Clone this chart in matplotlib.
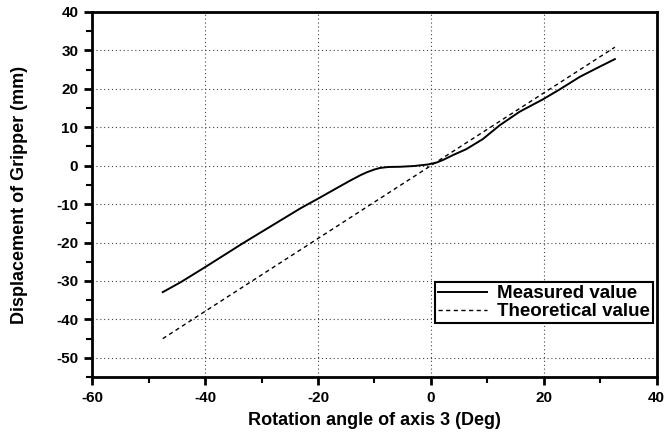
import numpy as np
from matplotlib import pyplot as plt
from matplotlib.ticker import MultipleLocator

# Measured curve
meas_x = [-47.5, -44.3, -40.0, -33.1, -23.1, -20.0, -16.5, -14.3, -12.5, -11.3, -10.0,
          -9.0, -7.5, -5.5, -3.0, -0.5, 1.0, 2.2, 4.0, 6.3, 9.2, 12.2, 15.7, 19.8,
          22.8, 26.4, 30.0, 32.6]
meas_y = [-32.9, -30.3, -26.4, -20.0, -11.1, -8.6, -5.7, -3.9, -2.5, -1.7, -1.0,
          -0.6, -0.35, -0.3, -0.1, 0.3, 0.8, 1.5, 2.8, 4.3, 6.9, 10.5, 14.0, 17.2,
          19.8, 23.1, 25.8, 27.7]

# Theoretical line
theo_x = [-47.5, 0.0, 32.6]
theo_y = [-45.0, 0.0, 30.8]

plt.rcParams['font.family'] = ['Liberation Sans', 'DejaVu Sans']
plt.rcParams['axes.unicode_minus'] = False

fig = plt.figure(figsize=(6.68, 4.38), dpi=100)
ax = fig.add_axes([0.138, 0.139, 0.845, 0.834])

ax.plot(meas_x, meas_y, color='black', lw=1.4, label='Measured value')
ax.plot(theo_x, theo_y, color='black', lw=1.0, linestyle=(0, (3, 2.5)), label='Theoretical value')

ax.set_xlim(-60, 40)
ax.set_ylim(-55, 40)
ax.xaxis.set_major_locator(MultipleLocator(20))
ax.xaxis.set_minor_locator(MultipleLocator(10))
ax.yaxis.set_major_locator(MultipleLocator(10))
ax.yaxis.set_minor_locator(MultipleLocator(5))
ax.grid(True, which='major', color='#444444', linestyle=(0, (1, 2.5)), lw=0.8)

ax.tick_params(which='major', direction='out', length=6, width=2, labelsize=11, pad=4)
ax.tick_params(which='minor', direction='out', length=4, width=1.5)
for lab in ax.get_xticklabels() + ax.get_yticklabels():
    lab.set_fontweight('bold')
for sp in ax.spines.values():
    sp.set_linewidth(2)

ax.set_xlabel('Rotation angle of axis 3 (Deg)', fontsize=13, fontweight='bold', labelpad=5)
ax.set_ylabel('Displacement of Gripper (mm)', fontsize=13, fontweight='bold', labelpad=20)

leg = ax.legend(loc='lower right', bbox_to_anchor=(0.993, 0.148), fancybox=False,
                framealpha=1, edgecolor='black', handlelength=2.6,
                prop={'weight': 'bold', 'size': 13.5}, borderpad=0.15,
                labelspacing=0.05, handletextpad=0.55, borderaxespad=0)
leg.get_frame().set_linewidth(1.5)

fig.savefig('out.png', dpi=100)
